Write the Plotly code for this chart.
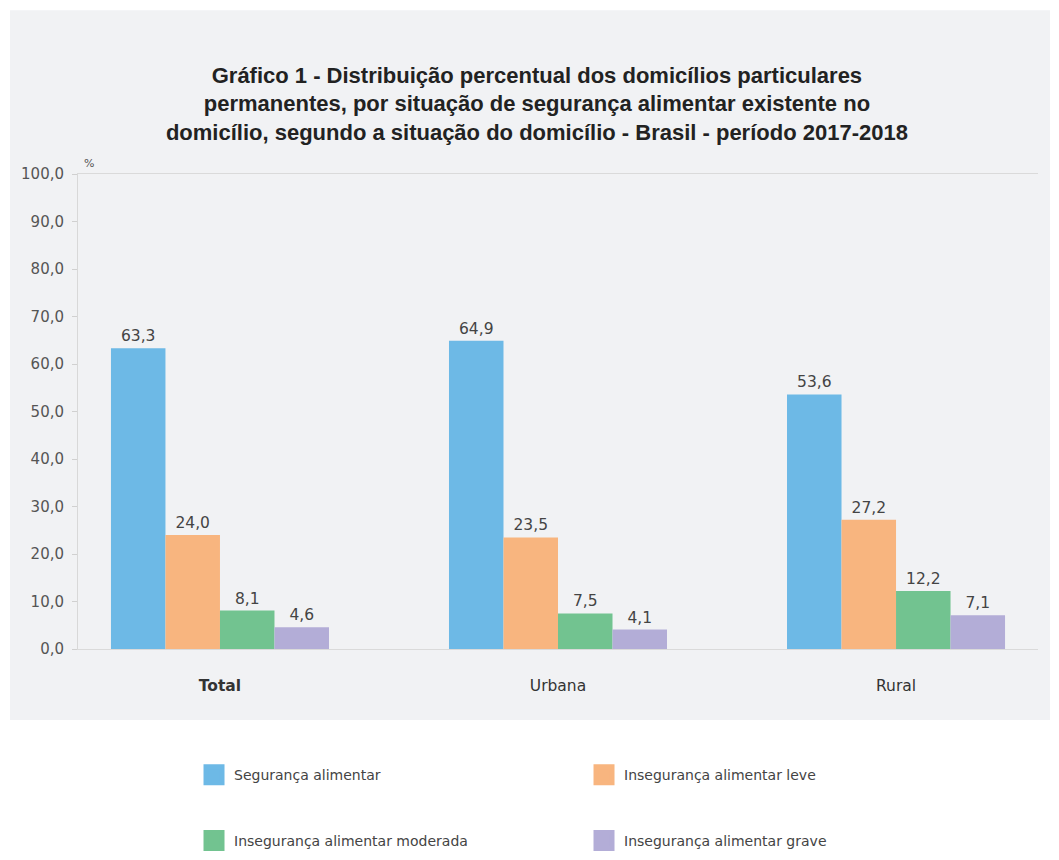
import plotly.graph_objects as go

categories = ["Total", "Urbana", "Rural"]
category_labels = ["<b>Total</b>", "Urbana", "Rural"]
series_names = [
    "Segurança alimentar",
    "Insegurança alimentar leve",
    "Insegurança alimentar moderada",
    "Insegurança alimentar grave",
]
seguranca = [63.3, 64.9, 53.6]
inseg_leve = [24.0, 23.5, 27.2]
inseg_moderada = [8.1, 7.5, 12.2]
inseg_grave = [4.6, 4.1, 7.1]
series_values = [seguranca, inseg_leve, inseg_moderada, inseg_grave]
colors = ["#6DB9E6", "#F8B57F", "#72C390", "#B3ADD7"]
legend_ids = ["legend", "legend", "legend2", "legend2"]
y_ticks = [0, 10, 20, 30, 40, 50, 60, 70, 80, 90, 100]
y_tick_labels = [f"{v:.1f}".replace(".", ",") for v in y_ticks]

FONT = "DejaVu Sans, Verdana, sans-serif"
TITLE_FONT = "Liberation Sans, Arial, sans-serif"

fig = go.Figure()
for name, vals, col, lg in zip(series_names, series_values, colors, legend_ids):
    fig.add_trace(go.Bar(
        x=categories, y=vals, name=name,
        marker=dict(color=col, line=dict(width=0)),
        text=[f"{v:.1f}".replace(".", ",") for v in vals],
        textposition="outside",
        textfont=dict(family=FONT, size=15.5, color="#444"),
        cliponaxis=False,
        showlegend=False,
        hoverinfo="skip",
    ))
    # legend proxy with a bigger swatch
    fig.add_trace(go.Scatter(
        x=[None], y=[None], mode="markers", name=name,
        marker=dict(symbol="square", size=16, color=col, line=dict(color=col, width=5)),
        legend=lg, showlegend=True,
    ))

fig.add_shape(type="rect", xref="paper", yref="paper",
              x0=-0.0708, x1=1.0125, y0=-0.1495, y1=1.345,
              fillcolor="#F1F2F4", line=dict(width=0), layer="below")

fig.add_annotation(text="%", xref="paper", yref="paper", x=0.0, y=1.0,
                   xanchor="left", yanchor="bottom", xshift=4, yshift=2,
                   showarrow=False, font=dict(family=FONT, size=11, color="#555"))

fig.update_layout(
    width=1059, height=860,
    margin=dict(l=78, r=21, t=174, b=211),
    paper_bgcolor="white",
    plot_bgcolor="white",
    barmode="group",
    bargap=0.355,
    bargroupgap=0,
    title=dict(
        text="<b>Gráfico 1 - Distribuição percentual dos domicílios particulares<br>"
             "permanentes, por situação de segurança alimentar existente no<br>"
             "domicílio, segundo a situação do domicílio - Brasil - período 2017-2018</b>",
        x=0.507, xref="container", xanchor="center",
        y=0.904, yref="container", yanchor="top",
        font=dict(family=TITLE_FONT, size=22, color="#222"),
    ),
    xaxis=dict(
        type="category", range=[-0.42, 2.42],
        tickvals=categories, ticktext=category_labels,
        tickfont=dict(family=FONT, size=15.5, color="#333"),
        showline=True, mirror=True, linecolor="#DADADA", linewidth=1,
        ticks="", showgrid=False, zeroline=False,
        ticklabelstandoff=22,
    ),
    yaxis=dict(
        range=[0, 100], tickvals=y_ticks, ticktext=y_tick_labels,
        tickfont=dict(family=FONT, size=15, color="#555"),
        showline=True, linecolor="#D8D8D8", linewidth=1,
        ticks="outside", ticklen=5, tickcolor="#D0D0D0",
        ticklabelstandoff=5,
        showgrid=False, zeroline=False,
    ),
    legend=dict(orientation="h", x=0.1832, y=0.0988, xref="container", yref="container",
                xanchor="left", yanchor="middle",
                entrywidth=345, entrywidthmode="pixels",
                font=dict(family=FONT, size=14, color="#444"),
                bgcolor="rgba(0,0,0,0)"),
    legend2=dict(orientation="h", x=0.1832, y=0.0221, xref="container", yref="container",
                 xanchor="left", yanchor="middle",
                 entrywidth=345, entrywidthmode="pixels",
                 font=dict(family=FONT, size=14, color="#444"),
                 bgcolor="rgba(0,0,0,0)"),
)

fig.write_html("out.html")
